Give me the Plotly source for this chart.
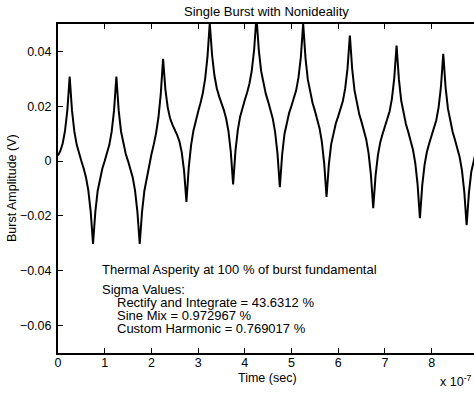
import plotly.graph_objects as go

# Burst amplitude (V), sampled every 0.05 x 1e-7 s, one list per fundamental period
amp_period_0 = [0.0020, 0.0037, 0.0064, 0.0110, 0.0185, 0.0308, 0.0184, 0.0108, 0.0060, 0.0027,
                0.0000, -0.0027, -0.0060, -0.0108, -0.0184, -0.0302, -0.0184, -0.0108, -0.0060, -0.0027]
amp_period_1 = [0.0000, 0.0027, 0.0060, 0.0108, 0.0184, 0.0308, 0.0184, 0.0108, 0.0060, 0.0027,
                0.0000, -0.0027, -0.0060, -0.0108, -0.0184, -0.0302, -0.0184, -0.0108, -0.0060, -0.0015]
amp_period_2 = [0.0024, 0.0060, 0.0102, 0.0158, 0.0243, 0.0373, 0.0261, 0.0195, 0.0156, 0.0133,
                0.0115, 0.0096, 0.0072, 0.0032, -0.0036, -0.0149, -0.0023, 0.0058, 0.0111, 0.0149]
amp_period_3 = [0.0180, 0.0211, 0.0247, 0.0299, 0.0378, 0.0503, 0.0385, 0.0312, 0.0266, 0.0236,
                0.0212, 0.0187, 0.0155, 0.0109, 0.0034, -0.0085, 0.0037, 0.0113, 0.0162, 0.0195]
amp_period_4 = [0.0223, 0.0250, 0.0283, 0.0331, 0.0406, 0.0527, 0.0405, 0.0328, 0.0279, 0.0245,
                0.0217, 0.0189, 0.0154, 0.0105, 0.0027, -0.0095, 0.0024, 0.0099, 0.0145, 0.0176]
amp_period_5 = [0.0202, 0.0227, 0.0258, 0.0305, 0.0379, 0.0502, 0.0375, 0.0297, 0.0248, 0.0213,
                0.0184, 0.0155, 0.0120, 0.0070, -0.0008, -0.0131, -0.0012, 0.0062, 0.0107, 0.0138]
amp_period_6 = [0.0163, 0.0188, 0.0219, 0.0265, 0.0339, 0.0458, 0.0335, 0.0257, 0.0207, 0.0172,
                0.0143, 0.0114, 0.0079, 0.0029, -0.0049, -0.0172, -0.0053, 0.0021, 0.0068, 0.0099]
amp_period_7 = [0.0124, 0.0149, 0.0181, 0.0227, 0.0302, 0.0421, 0.0298, 0.0220, 0.0170, 0.0135,
                0.0106, 0.0077, 0.0042, -0.0007, -0.0085, -0.0208, -0.0088, -0.0013, 0.0034, 0.0065]
amp_period_8 = [0.0091, 0.0117, 0.0149, 0.0196, 0.0271, 0.0391, 0.0268, 0.0191, 0.0141, 0.0107,
                0.0078, 0.0050, 0.0015, -0.0034, -0.0112, -0.0234, -0.0114, -0.0039, 0.0000, 0.0035,
                0.0060]

SAMPLE_STEP = 0.05e-7  # seconds

x_tick_vals = [0, 1e-7, 2e-7, 3e-7, 4e-7, 5e-7, 6e-7, 7e-7, 8e-7]
x_tick_text = ["0", "1", "2", "3", "4", "5", "6", "7", "8"]
y_tick_vals = [-0.06, -0.04, -0.02, 0, 0.02, 0.04]
y_tick_text = ["\u22120.06", "\u22120.04", "\u22120.02", "0", "0.02", "0.04"]

title_text = "Single Burst with Nonideality"
x_title = "Time (sec)"
y_title = "Burst Amplitude (V)"
note_lines = [
    "Thermal Asperity at 100 % of burst fundamental",
    "Sigma Values:",
    "Rectify and Integrate = 43.6312 %",
    "Sine Mix = 0.972967 %",
    "Custom Harmonic = 0.769017 %",
]

amplitude = (amp_period_0 + amp_period_1 + amp_period_2 + amp_period_3 + amp_period_4
             + amp_period_5 + amp_period_6 + amp_period_7 + amp_period_8)
time = [i * SAMPLE_STEP for i in range(len(amplitude))]

W, H = 474, 393
ML, MR, MT, MB = 58, 0, 24, 40
PW, PH = W - ML - MR, H - MT - MB
FONT = "Liberation Sans, Arial, Helvetica, sans-serif"


def px(xp):
    return (xp - ML) / PW


def py(yp):
    return (H - MB - yp) / PH


fig = go.Figure()
fig.add_trace(go.Scatter(x=time, y=amplitude, mode="lines",
                         line=dict(color="black", width=2), showlegend=False))

axis_common = dict(showgrid=False, zeroline=False, ticks="inside", ticklen=5, tickwidth=1,
                   tickcolor="black", linecolor="black", linewidth=2,
                   tickfont=dict(family=FONT, size=12.5, color="black"))

fig.update_layout(
    width=W, height=H,
    margin=dict(l=ML, r=MR, t=MT, b=MB, pad=0),
    paper_bgcolor="white", plot_bgcolor="white",
    font=dict(family=FONT, size=13, color="black"),
    xaxis=dict(range=[0, 8.908e-7], tickvals=x_tick_vals, ticktext=x_tick_text,
               showline=True, mirror="ticks", ticklabelstandoff=-3, **axis_common),
    yaxis=dict(range=[-0.07, 0.05], tickvals=y_tick_vals, ticktext=y_tick_text,
               showline=True, mirror=False, ticklabelstandoff=2, **axis_common),
    yaxis2=dict(range=[-0.07, 0.05], tickvals=y_tick_vals, overlaying="y", side="right",
                anchor="x", showticklabels=False, showline=False, showgrid=False,
                zeroline=False, ticks="inside", ticklen=5, tickwidth=1, tickcolor="black"),
    showlegend=False,
)

fig.add_annotation(text=title_text, x=px(266), y=py(11), xref="paper", yref="paper",
                   showarrow=False, xanchor="center", yanchor="middle",
                   font=dict(family=FONT, size=13))
fig.add_annotation(text=x_title, x=px(267), y=py(378), xref="paper", yref="paper",
                   showarrow=False, xanchor="center", yanchor="middle",
                   font=dict(family=FONT, size=12.5))
fig.add_annotation(text=y_title, x=px(12), y=py(188), xref="paper", yref="paper",
                   showarrow=False, xanchor="center", yanchor="middle", textangle=-90,
                   font=dict(family=FONT, size=12.5))
fig.add_annotation(text="x 10<sup>-7</sup>", x=px(474), y=py(381), xref="paper", yref="paper",
                   showarrow=False, xanchor="right", yanchor="middle",
                   font=dict(family=FONT, size=12.5))

note_pos = [(100, 269), (100, 289), (115, 302), (115, 315), (115, 328)]
for line, (nx, ny) in zip(note_lines, note_pos):
    fig.add_annotation(text=line, x=px(nx), y=py(ny), xref="paper", yref="paper",
                       showarrow=False, xanchor="left", yanchor="middle",
                       font=dict(family=FONT, size=13))

fig.write_html("out.html")
